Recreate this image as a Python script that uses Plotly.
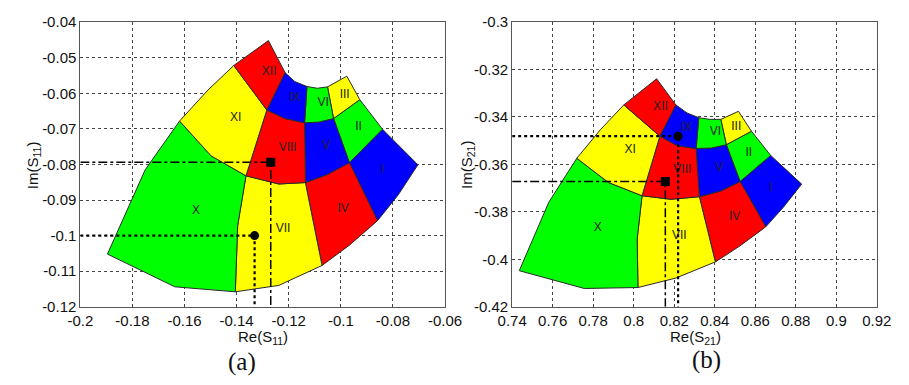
import plotly.graph_objects as go

# ---------------- data ----------------
REGION_NAMES = ["I", "II", "III", "IV", "V", "VI", "VII", "VIII", "IX", "X", "XI", "XII"]
REGION_COLORS = ["#0000FF", "#00FF00", "#FFFF00", "#FF0000", "#0000FF", "#00FF00",
                 "#FFFF00", "#FF0000", "#0000FF", "#00FF00", "#FFFF00", "#FF0000"]

# Panel (a): grid nodes [column][row], column 0 = right edge, row 0 = outer arc
A_NODE_X = [[-0.0704, -0.0840, -0.0927, -0.0977],
            [-0.0859, -0.0967, -0.1028, -0.1051],
            [-0.1072, -0.1136, -0.1139, -0.1130],
            [-0.1405, -0.1364, -0.1284, -0.1214],
            [-0.1896, -0.1619, -0.1411, -0.1278]]
A_NODE_Y = [[-0.0801, -0.0701, -0.0618, -0.0552],
            [-0.0958, -0.0795, -0.0671, -0.0582],
            [-0.1084, -0.0851, -0.0683, -0.0581],
            [-0.1158, -0.0832, -0.0647, -0.0542],
            [-0.1052, -0.0678, -0.0522, -0.0452]]
A_ARC_BENDS = {(0, 0): (-0.0779, -0.0885), (0, 1): (-0.0967, -0.1027),
               (0, 2): (-0.1238, -0.1140), (0, 3): (-0.1637, -0.1144),
               (1, 1): (-0.1051, -0.0828), (1, 2): (-0.1238, -0.0855),
               (1, 3): (-0.1498, -0.0776), (2, 1): (-0.1084, -0.0681),
               (2, 2): (-0.1214, -0.0671), (3, 1): (-0.1090, -0.0586),
               (3, 2): (-0.1177, -0.0567)}
A_RAD_BENDS = {(3, 0): (-0.1396, -0.0972), (4, 0): (-0.1751, -0.0815),
               (4, 1): (-0.1510, -0.0591)}
A_LABEL_X = [-0.0840, -0.0932, -0.0985, -0.0991, -0.1056, -0.1068,
             -0.1222, -0.1204, -0.1177, -0.1556, -0.1404, -0.1275]
A_LABEL_Y = [-0.0817, -0.0696, -0.0604, -0.0924, -0.0749, -0.0628,
             -0.0981, -0.0754, -0.0613, -0.0931, -0.0670, -0.0540]
A_SQUARE = (-0.1269, -0.0794)
A_CIRCLE = (-0.1331, -0.1000)
A_XRANGE = [-0.2, -0.06]
A_YRANGE = [-0.12, -0.04]
A_XTICKS = [-0.2, -0.18, -0.16, -0.14, -0.12, -0.1, -0.08, -0.06]
A_XTICKTEXT = ["-0.2", "-0.18", "-0.16", "-0.14", "-0.12", "-0.1", "-0.08", "-0.06"]
A_YTICKS = [-0.12, -0.11, -0.1, -0.09, -0.08, -0.07, -0.06, -0.05, -0.04]
A_YTICKTEXT = ["-0.12", "-0.11", "-0.1", "-0.09", "-0.08", "-0.07", "-0.06", "-0.05", "-0.04"]

# Panel (b)
B_NODE_X = [[0.8829, 0.8676, 0.8581, 0.8517],
            [0.8652, 0.8525, 0.8457, 0.8430],
            [0.8403, 0.8324, 0.8308, 0.8321],
            [0.8021, 0.8041, 0.8129, 0.8208],
            [0.7435, 0.7719, 0.7951, 0.8113]]
B_NODE_Y = [[-0.3683, -0.3562, -0.3460, -0.3376],
            [-0.3863, -0.3672, -0.3517, -0.3410],
            [-0.4011, -0.3736, -0.3533, -0.3403],
            [-0.4119, -0.3732, -0.3481, -0.3349],
            [-0.4048, -0.3574, -0.3349, -0.3239]]
B_ARC_BENDS = {(0, 0): (0.8740, -0.3779), (0, 1): (0.8525, -0.3943),
               (0, 2): (0.8208, -0.4079), (0, 3): (0.7756, -0.4123),
               (1, 1): (0.8430, -0.3712), (1, 2): (0.8184, -0.3747),
               (1, 3): (0.7875, -0.3676), (2, 1): (0.8383, -0.3531),
               (2, 2): (0.8216, -0.3521), (3, 1): (0.8375, -0.3410),
               (3, 2): (0.8263, -0.3383)}
B_RAD_BENDS = {(3, 0): (0.8017, -0.3914), (4, 0): (0.7581, -0.3759),
               (4, 1): (0.7835, -0.3454)}
B_LABEL_X = [0.8676, 0.8568, 0.8506, 0.8498, 0.8422, 0.8403,
             0.8225, 0.8240, 0.8260, 0.7822, 0.7983, 0.8132]
B_LABEL_Y = [-0.3699, -0.3551, -0.3441, -0.3820, -0.3614, -0.3464,
             -0.3903, -0.3622, -0.3446, -0.3867, -0.3538, -0.3356]
B_SQUARE = (0.8156, -0.3672)
B_CIRCLE = (0.8219, -0.3481)
B_XRANGE = [0.74, 0.92]
B_YRANGE = [-0.42, -0.30]
B_XTICKS = [0.74, 0.76, 0.78, 0.8, 0.82, 0.84, 0.86, 0.88, 0.9, 0.92]
B_XTICKTEXT = ["0.74", "0.76", "0.78", "0.8", "0.82", "0.84", "0.86", "0.88", "0.9", "0.92"]
B_YTICKS = [-0.42, -0.4, -0.38, -0.36, -0.34, -0.32, -0.3]
B_YTICKTEXT = ["-0.42", "-0.4", "-0.38", "-0.36", "-0.34", "-0.32", "-0.3"]

# ---------------- helpers ----------------
def cell_polygon(nx, ny, arc_b, rad_b, c, r):
    pts = [(nx[c][r], ny[c][r])]
    if (r, c) in arc_b:
        pts.append(arc_b[(r, c)])
    pts.append((nx[c + 1][r], ny[c + 1][r]))
    if (c + 1, r) in rad_b:
        pts.append(rad_b[(c + 1, r)])
    pts.append((nx[c + 1][r + 1], ny[c + 1][r + 1]))
    if (r + 1, c) in arc_b:
        pts.append(arc_b[(r + 1, c)])
    pts.append((nx[c][r + 1], ny[c][r + 1]))
    if (c, r) in rad_b:
        pts.append(rad_b[(c, r)])
    pts.append(pts[0])
    return [p[0] for p in pts], [p[1] for p in pts]


fig = go.Figure()

def add_panel(nx, ny, arc_b, rad_b, lx, ly, square, circle, xr, yr, xa, ya):
    for c in range(4):
        for r in range(3):
            k = 3 * c + r
            px, py = cell_polygon(nx, ny, arc_b, rad_b, c, r)
            fig.add_trace(go.Scatter(x=px, y=py, mode="lines", fill="toself",
                                     fillcolor=REGION_COLORS[k],
                                     line=dict(color="#2a2a2a", width=1),
                                     hoverinfo="skip", xaxis=xa, yaxis=ya))
    fig.add_trace(go.Scatter(x=lx, y=ly, mode="text", text=REGION_NAMES,
                             textfont=dict(family="Arial", size=12, color="#222"),
                             hoverinfo="skip", xaxis=xa, yaxis=ya))
    # dash-dot guides to square
    fig.add_trace(go.Scatter(x=[xr[0], square[0], square[0]], y=[square[1], square[1], yr[0]],
                             mode="lines", line=dict(color="black", width=1.5, dash="dashdot"),
                             hoverinfo="skip", xaxis=xa, yaxis=ya))
    # dotted guides to circle
    fig.add_trace(go.Scatter(x=[xr[0], circle[0], circle[0]], y=[circle[1], circle[1], yr[0]],
                             mode="lines", line=dict(color="black", width=2.2, dash="dot"),
                             hoverinfo="skip", xaxis=xa, yaxis=ya))
    fig.add_trace(go.Scatter(x=[square[0]], y=[square[1]], mode="markers",
                             marker=dict(symbol="square", size=9, color="black"),
                             hoverinfo="skip", xaxis=xa, yaxis=ya))
    fig.add_trace(go.Scatter(x=[circle[0]], y=[circle[1]], mode="markers",
                             marker=dict(symbol="circle", size=9, color="black"),
                             hoverinfo="skip", xaxis=xa, yaxis=ya))

add_panel(A_NODE_X, A_NODE_Y, A_ARC_BENDS, A_RAD_BENDS, A_LABEL_X, A_LABEL_Y,
          A_SQUARE, A_CIRCLE, A_XRANGE, A_YRANGE, "x", "y")
add_panel(B_NODE_X, B_NODE_Y, B_ARC_BENDS, B_RAD_BENDS, B_LABEL_X, B_LABEL_Y,
          B_SQUARE, B_CIRCLE, B_XRANGE, B_YRANGE, "x2", "y2")

tickfont = dict(family="Arial", size=15, color="#111")
titlefont = dict(family="Arial", size=15, color="#111")
axis_common = dict(showline=True, mirror=True, linecolor="#555", linewidth=1,
                   showgrid=True, gridcolor="#444", griddash="dot", gridwidth=1,
                   zeroline=False, ticks="", tickfont=tickfont, tickmode="array",
                   fixedrange=True)

ydom = [0.1909, 0.9644]
fig.update_layout(
    width=909, height=385,
    margin=dict(l=0, r=0, t=0, b=0),
    paper_bgcolor="white", plot_bgcolor="white",
    showlegend=False,
    xaxis=dict(domain=[0.0745, 0.4903], range=A_XRANGE, tickvals=A_XTICKS,
               ticktext=A_XTICKTEXT, anchor="y", **axis_common),
    yaxis=dict(domain=ydom, range=A_YRANGE, tickvals=A_YTICKS,
               ticktext=A_YTICKTEXT, anchor="x", **axis_common),
    xaxis2=dict(domain=[0.5669, 0.9827], range=B_XRANGE, tickvals=B_XTICKS,
                ticktext=B_XTICKTEXT, anchor="y2", **axis_common),
    yaxis2=dict(domain=ydom, range=B_YRANGE, tickvals=B_YTICKS,
                ticktext=B_YTICKTEXT, anchor="x2", **axis_common),
)

# Left y-axis title as a rotated shape label (paper annotations get pushed inside the page)
fig.add_shape(type="rect", xref="paper", yref="paper",
              x0=8 / 909, x1=28 / 909, y0=0.50, y1=0.65,
              line=dict(width=0), fillcolor="rgba(0,0,0,0)",
              label=dict(text="Im(S<sub>11</sub>)", font=titlefont, textangle=-90,
                         textposition="middle center"))

capfont = dict(family="Liberation Serif, Times New Roman, serif", size=25, color="#111")
annots = [
    dict(text="Re(S<sub>11</sub>)", x=0.2824, y=0.106, font=titlefont),
    dict(text="Re(S<sub>21</sub>)", x=0.7756, y=0.106, font=titlefont),
    dict(text="Im(S<sub>21</sub>)", x=0.5152, y=0.5758, font=titlefont, textangle=-90),
    dict(text="(a)", x=0.2593, y=0.0416, font=capfont),
    dict(text="(b)", x=0.7884, y=0.0468, font=capfont),
]
for a in annots:
    fig.add_annotation(xref="paper", yref="paper", showarrow=False,
                       xanchor="center", yanchor="middle", **a)

fig.write_html("out.html")
